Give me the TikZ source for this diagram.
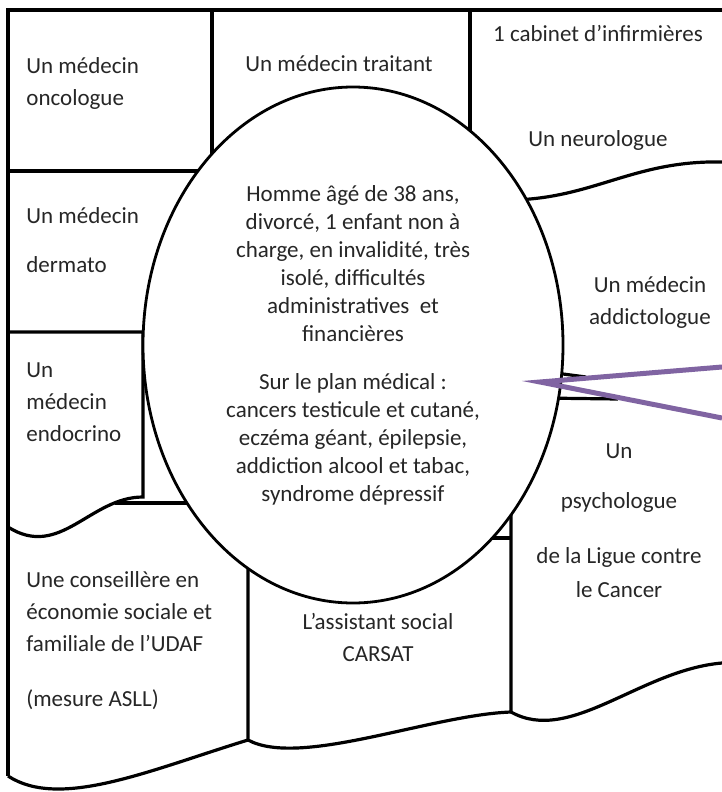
\documentclass[tikz,border=0pt]{standalone}
\usepackage{fontspec}
\setmainfont{Carlito}
\usetikzlibrary{shapes.geometric}
\definecolor{calloutpurple}{HTML}{8064A2}

\begin{document}
\begin{tikzpicture}[x=0.5pt,y=-0.5pt,
    wall/.style={line width=1.6pt},
    lbl/.style={inner sep=0pt,text=black!85,font=\fontsize{11.5}{16}\selectfont}]
    \useasboundingbox (0,0) rectangle (722,792);
    \draw[wall] (722,10) -- (8,10) -- (8,776);
    \draw[wall] (212,10) -- (212,200);
    \draw[wall] (470,10) -- (470,200);
    \draw[wall] (8,171) -- (230,171);
    \draw[wall] (500,200) .. controls (590,202) and (630,160) .. (722,162);
    \draw[wall] (8,332) -- (143,332) -- (143,497) .. controls (90,497) and (60,560) .. (8,527);
    \draw[wall] (115,503) -- (200,503);
    \draw[wall] (248,538) -- (511,538);
    \draw[wall] (248,538) -- (248,740) .. controls (300,768) and (430,715) .. (511,712) -- (511,500);
    \draw[wall] (8,776) .. controls (60,810) and (150,770) .. (248,740);
    \draw[wall] (511,712) .. controls (570,745) and (640,670) .. (722,663);
    \draw[wall] (540,371) -- (586,377);
    \draw[wall] (540,398) -- (618,399);
    \node[shape=ellipse,draw,fill=white,line width=1.4pt,inner sep=0pt,
        minimum width=210pt,minimum height=258pt,align=center,
        text=black!85,font=\fontsize{11.5}{14}\selectfont] (patient) at (353,345)
        {Homme âgé de 38 ans,\\divorcé, 1 enfant non à\\charge, en invalidité, très\\isolé, difficultés\\administratives\ \ et\\financières\\[10pt]
         Sur le plan médical :\\cancers testicule et cutané,\\eczéma géant, épilepsie,\\addiction alcool et tabac,\\syndrome dépressif};
    \node[lbl,anchor=north west,align=left] (oncologue) at (26,57) {Un médecin\\oncologue};
    \node[lbl,anchor=north] (traitant) at (339,55) {Un médecin traitant};
    \node[lbl,anchor=north,align=center] (infirmieres) at (598,25) {1 cabinet d’infirmières\\[36.5pt]Un neurologue};
    \node[lbl,anchor=north west,align=left] (dermato) at (26,207) {Un médecin\\[8.5pt]dermato};
    \node[lbl,anchor=north west,align=left] (endocrino) at (26,362) {Un\\médecin\\endocrino};
    \node[lbl,anchor=north,align=center] (addicto) at (650,276) {Un médecin\\addictologue};
    \node[lbl,anchor=north,align=center] (psycho) at (619,443) {Un\\[9pt]psychologue\\[11.5pt]de la Ligue contre\\[1pt]le Cancer};
    \node[lbl,anchor=north west,align=left] (conseillere) at (26,571) {Une conseillère en\\économie sociale et\\familiale de l’UDAF\\[11.5pt](mesure ASLL)};
    \node[lbl,anchor=north,align=center] (carsat) at (378,613) {L’assistant social\\CARSAT};
    \draw[calloutpurple,line width=2.5pt] (722,367) -- (540,382) -- (722,418);
\end{tikzpicture}
\end{document}
